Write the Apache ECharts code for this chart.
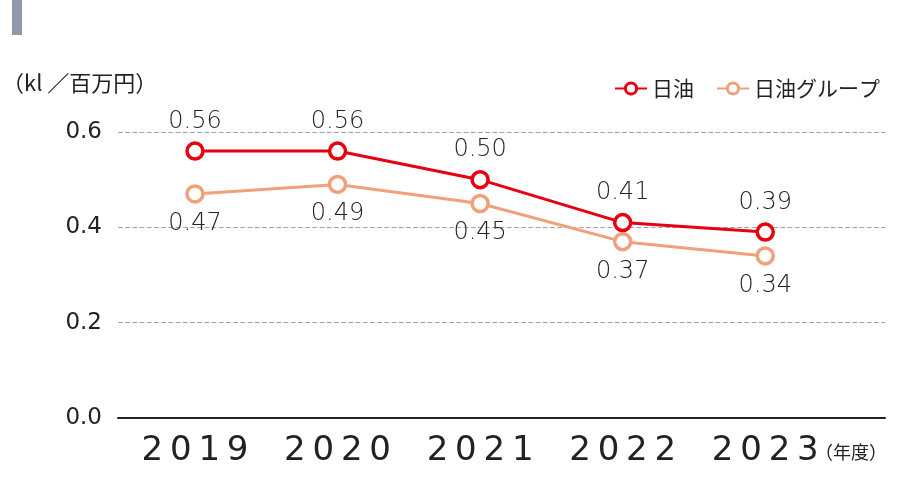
<!DOCTYPE html><html><head><meta charset="utf-8"><script src="https://cdn.jsdelivr.net/npm/echarts@6/dist/echarts.min.js"></script>
<style>body{margin:0}#c{width:900px;height:480px}</style></head><body><div id="c"></div><script>
const years=[2019,2020,2021,2022,2023];
const nof=[0.56,0.56,0.50,0.41,0.39];
const group=[0.47,0.49,0.45,0.37,0.34];
const yTicks=[0,0.2,0.4,0.6];
const F="'Noto Sans CJK JP','Noto Sans',sans-serif";
const N="'DejaVu Sans','Noto Sans',sans-serif";
const ch=echarts.init(document.getElementById('c'));
const mk=(name,vals,color,pos)=>({name,type:'line',data:years.map((y,i)=>[y,vals[i]]),color,
 symbol:'circle',symbolSize:16,lineStyle:{width:3,color},itemStyle:{color:'#fff',borderColor:color,borderWidth:3.5},
 label:{show:true,position:pos,distance:8,formatter:p=>p.value[1].toFixed(2),fontSize:24,color:'#222',fontFamily:N,fontWeight:300}});
ch.setOption({animation:false,
 graphic:[{type:'rect',shape:{x:12,y:0,width:10,height:35},style:{fill:'#8e99ab'}},
  {type:'text',left:2,top:72,style:{text:'（kl ／百万円）',fontSize:22,fill:'#222',fontFamily:F}},
  {type:'text',left:815,top:443,style:{text:'（年度）',fontSize:18,fill:'#222',fontFamily:F}}],
 legend:{right:15,top:73,itemWidth:32,itemHeight:14,itemGap:22,textStyle:{fontSize:21,color:'#222',fontFamily:F},
  data:[{name:'日油',itemStyle:{color:'#fff',borderColor:'#e60012',borderWidth:3}},{name:'日油グループ',itemStyle:{color:'#fff',borderColor:'#f0a07a',borderWidth:3}}]},
 grid:{left:118,right:15,top:132,bottom:62},
 xAxis:{type:'value',min:2018.46,max:2023.84,splitLine:{show:false},axisTick:{show:false},
  axisLine:{show:true,lineStyle:{color:'#222',width:2}},
  axisLabel:{customValues:years,fontSize:34,color:'#222',fontFamily:N,margin:16,formatter:v=>String(v).split('').join('\u2009')}},
 yAxis:{type:'value',min:0,max:0.6,interval:0.2,axisLine:{show:false},axisTick:{show:false},
  axisLabel:{fontSize:23,color:'#222',fontFamily:N,margin:16,formatter:v=>v.toFixed(1)},
  splitLine:{lineStyle:{type:'dashed',color:'#9aa3b5',width:1.2}}},
 series:[mk('日油',nof,'#e60012','top'),mk('日油グループ',group,'#f0a07a','bottom')]});
</script></body></html>
